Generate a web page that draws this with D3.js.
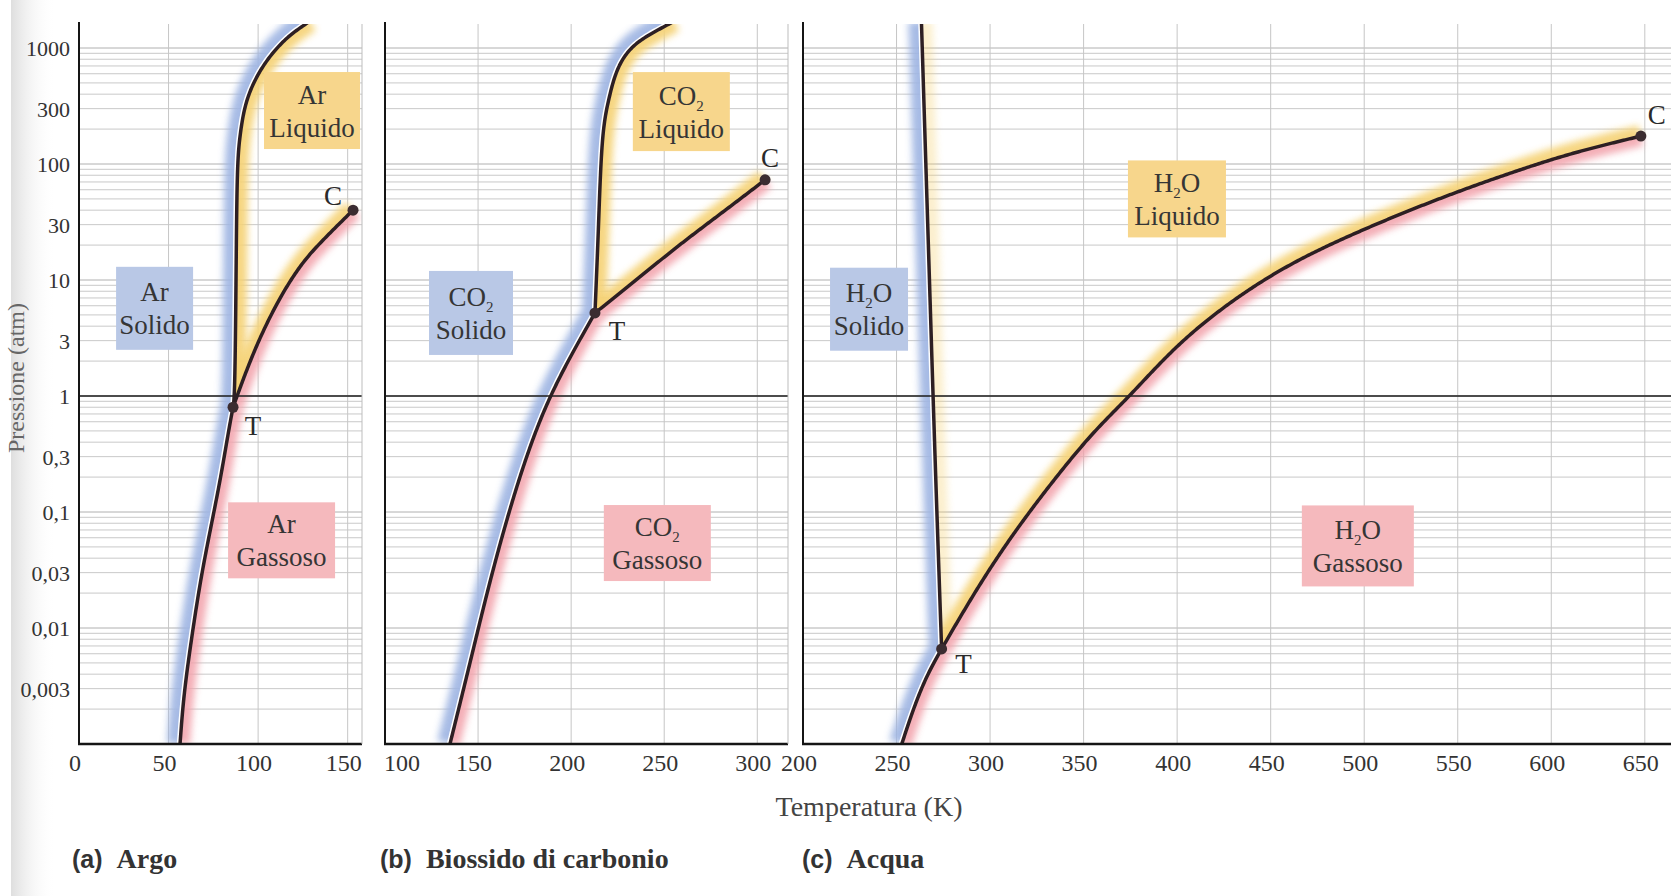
<!DOCTYPE html>
<html><head><meta charset="utf-8">
<script src="https://cdn.jsdelivr.net/npm/d3@7"></script>
<style>html,body{margin:0;padding:0;background:#fff;overflow:hidden}</style>
</head><body>
<svg id="chart" width="1671" height="896"></svg>
<script>
// ---------------- DATA ----------------
const pressureTickValues = [1000, 300, 100, 30, 10, 3, 1, 0.3, 0.1, 0.03, 0.01, 0.003];
const pressureTickLabels = ["1000", "300", "100", "30", "10", "3", "1", "0,3", "0,1", "0,03", "0,01", "0,003"];

const argonTempTicks = [0, 50, 100, 150];
const co2TempTicks = [100, 150, 200, 250, 300];
const waterTempTicks = [200, 250, 300, 350, 400, 450, 500, 550, 600, 650];

// [temperature K, pressure atm]
const argonSublimation = [[56.4,0.001],[58.3,0.0025],[62.0,0.0067],[67.6,0.025],[73.2,0.069],[78.8,0.185],[83.5,0.5],[86.0,0.8]];
const argonMelting = [[86.0,0.8],[87.0,1],[87.7,10],[88.2,100],[89.9,180],[92.7,340],[99.4,590],[108.3,930],[117.8,1300],[125.1,1550],[128.7,1700]];
const argonVaporization = [[86.0,0.8],[97.2,2.4],[110.6,6.5],[123.5,13.5],[134.6,21],[153.0,40]];
const argonTriple = [86.0, 0.8];
const argonCritical = [153.0, 40];

const co2Sublimation = [[134.9,0.001],[145.7,0.005],[156.4,0.026],[168.8,0.135],[179.5,0.44],[188.7,1.0],[199.4,2.17],[212.8,5.2]];
const co2Melting = [[212.8,5.2],[214.6,25],[216.4,185],[220.0,355],[224.5,690],[233.4,1100],[249.5,1515],[255.3,1700]];
const co2Vaporization = [[212.8,5.2],[230.0,8.6],[256.9,19.5],[283.8,41],[304.2,73]];
const co2Triple = [212.8, 5.2];
const co2Critical = [304.2, 73];

const waterSublimation = [[252.8,0.001],[258.9,0.002],[266.1,0.0039],[274.1,0.0066]];
const waterMelting = [[274.1,0.0066],[271.5,0.106],[269.5,1],[263.3,1700]];
const waterVaporization = [[274.1,0.0066],[285.5,0.0137],[299.9,0.0329],[317.6,0.0853],[339.0,0.239],[357.1,0.53],[374.8,1.0],[400.4,2.86],[430.9,7.0],[460.8,14.0],[491.3,23.9],[521.8,38.6],[552.2,59.7],[582.7,88.8],[612.6,126.9],[647.9,174]];
const waterTriple = [274.1, 0.0066];
const waterCritical = [647.9, 174];

const phaseNames = ["Solido", "Liquido", "Gassoso"];
const formulas = ["Ar", "CO_2", "H_2O"];
const captionLetters = ["(a)", "(b)", "(c)"];
const captionNames = ["Argo", "Biossido di carbonio", "Acqua"];
const xAxisTitle = "Temperatura (K)";
const yAxisTitle = "Pressione (atm)";

// ---------------- LAYOUT ----------------
const W = 1671, H = 896;
const serif = "'Liberation Serif','Times New Roman',serif";
const sans = "'Liberation Sans',Arial,sans-serif";
const plotTop = 24;
const y = d3.scaleLog().domain([0.001, 1000]).range([744, 48]);
const bottomY = y(0.001);

const panels = [
  { name: "a", xDomain: [0, 158], xRange: [79, 362], ticks: argonTempTicks, grid: [50, 100, 150],
    sub: argonSublimation, melt: argonMelting, vap: argonVaporization, triple: argonTriple, critical: argonCritical,
    formula: formulas[0], meltYellow: 0.9,
    boxes: [{T: 42.2, p: 5.7, w: 77, h: 83}, {T: 130.1, p: 289, w: 96, h: 77}, {T: 113.1, p: 0.057, w: 107, h: 76}],
    tOff: [20, 28], cOff: [-20, -5], rightEdge: true, captionX: 72 },
  { name: "b", xDomain: [100, 316.5], xRange: [385, 788], ticks: co2TempTicks, grid: [150, 200, 250, 300],
    sub: co2Sublimation, melt: co2Melting, vap: co2Vaporization, triple: co2Triple, critical: co2Critical,
    formula: formulas[1], meltYellow: 0.9,
    boxes: [{T: 146.2, p: 5.2, w: 84, h: 84}, {T: 259.2, p: 283, w: 97, h: 79}, {T: 246.3, p: 0.054, w: 107, h: 76}],
    tOff: [22, 27], cOff: [5, -13], rightEdge: true, captionX: 380 },
  { name: "c", xDomain: [200, 664], xRange: [803, 1671], ticks: waterTempTicks, grid: [250, 300, 350, 400, 450, 500, 550, 600, 650],
    sub: waterSublimation, melt: waterMelting, vap: waterVaporization, triple: waterTriple, critical: waterCritical,
    formula: formulas[2], meltYellow: 0.35,
    boxes: [{T: 235.3, p: 5.6, w: 78, h: 83}, {T: 399.9, p: 50, w: 98, h: 77}, {T: 496.6, p: 0.051, w: 112, h: 81}],
    tOff: [22, 24], cOff: [16, -12], rightEdge: false, captionX: 802 }
];

const boxColors = ["#b9c8e6", "#f7d68c", "#f5b9bd"];
const glowColors = { solid: "#9db4e2", liquid: "#f5d274", gas: "#f2a1aa" };
const curveColor = "#2d1f23";

const svg = d3.select("#chart");
const defs = svg.append("defs");
svg.append("rect").attr("width", W).attr("height", H).attr("fill", "#fff");

const shade = defs.append("linearGradient").attr("id", "shade").attr("x1", 0).attr("x2", 1).attr("y1", 0).attr("y2", 0);
shade.append("stop").attr("offset", 0).attr("stop-color", "#d6d6d6").attr("stop-opacity", 0.8);
shade.append("stop").attr("offset", 1).attr("stop-color", "#ffffff").attr("stop-opacity", 0);
svg.append("rect").attr("x", 11).attr("y", 0).attr("width", 45).attr("height", H).attr("fill", "url(#shade)");

const blur = defs.append("filter").attr("id", "glowBlur").attr("filterUnits", "userSpaceOnUse")
  .attr("x", 0).attr("y", 0).attr("width", W).attr("height", H);
blur.append("feGaussianBlur").attr("stdDeviation", 3.5);

const linear = d3.line();
const poly = pts => "M" + pts.map(p => p[0].toFixed(2) + "," + p[1].toFixed(2)).join("L") + "Z";

// smooth a curve through scaled data points (B-spline), sampled into a dense polyline
function smoothPts(dataPts, x) {
  const d = d3.line().curve(d3.curveBasis)(dataPts.map(p => [x(p[0]), y(p[1])]));
  const tmp = svg.append("path").attr("d", d).attr("fill", "none");
  const node = tmp.node();
  const L = node.getTotalLength();
  const n = Math.max(30, Math.ceil(L / 2));
  const out = d3.range(n + 1).map(i => { const q = node.getPointAtLength(L * i / n); return [q.x, q.y]; });
  tmp.remove();
  return out;
}

function writeFormula(sel, f) {
  const parts = f.match(/_\d|[^_]+/g);
  let prevSub = false;
  parts.forEach(part => {
    if (part.startsWith("_")) {
      sel.append("tspan").attr("font-size", 15).attr("dy", 6).text(part.slice(1));
      prevSub = true;
    } else {
      const t = sel.append("tspan").text(part);
      if (prevSub) t.attr("dy", -6);
      prevSub = false;
    }
  });
}

const logGrid = [];
for (let k = -3; k <= 3; k++) for (let m = 1; m <= 9; m++) {
  const v = m * Math.pow(10, k);
  if (v > 0.001 && y(v) >= plotTop) logGrid.push(v);
}

panels.forEach((P, pi) => {
  const x = d3.scaleLinear().domain(P.xDomain).range(P.xRange);
  const [x0, x1] = P.xRange;
  const subPx = smoothPts(P.sub, x), meltPx = smoothPts(P.melt, x), vapPx = smoothPts(P.vap, x);
  const cPx = [x(P.critical[0]), y(P.critical[1])], tPx = [x(P.triple[0]), y(P.triple[1])];
  const far = 200;

  defs.append("clipPath").attr("id", "plot-" + P.name).append("rect")
    .attr("x", x0).attr("y", plotTop).attr("width", x1 - x0).attr("height", bottomY - plotTop);

  const meltLast = meltPx[meltPx.length - 1];
  const solidPoly = [[subPx[0][0], bottomY + far], ...subPx, ...meltPx.slice(1), [meltLast[0], -far], [x0 - far, -far], [x0 - far, bottomY + far]];
  const liquidPoly = [...meltPx, [meltLast[0], -far], [x1 + far, -far], [x1 + far, cPx[1]], ...vapPx.slice().reverse()];
  const gasPoly = [[subPx[0][0], bottomY + far], ...subPx, ...vapPx.slice(1), [x1 + far, cPx[1]], [x1 + far, bottomY + far]];
  defs.append("clipPath").attr("id", "solid-" + P.name).append("path").attr("d", poly(solidPoly));
  defs.append("clipPath").attr("id", "liquid-" + P.name).append("path").attr("d", poly(liquidPoly));
  defs.append("clipPath").attr("id", "gas-" + P.name).append("path").attr("d", poly(gasPoly));

  const g = svg.append("g").attr("clip-path", "url(#plot-" + P.name + ")");

  // grid
  g.append("g").selectAll("line").data(logGrid).join("line")
    .attr("x1", x0).attr("x2", x1).attr("y1", d => y(d)).attr("y2", d => y(d))
    .attr("stroke", d => (Math.abs(Math.log10(d) - Math.round(Math.log10(d))) < 1e-9 ? "#b0b0b0" : "#c9c9c9"))
    .attr("stroke-width", 1);
  g.append("g").selectAll("line").data(P.grid).join("line")
    .attr("x1", d => x(d)).attr("x2", d => x(d)).attr("y1", plotTop).attr("y2", bottomY)
    .attr("stroke", "#c6c6c6").attr("stroke-width", 1);

  // glows
  const solidLine = linear([...subPx, ...meltPx.slice(1)]);
  const gs = g.append("g").attr("clip-path", "url(#solid-" + P.name + ")");
  gs.append("path").attr("d", solidLine).attr("fill", "none").attr("stroke", glowColors.solid)
    .attr("stroke-width", 26).attr("opacity", 0.9).attr("filter", "url(#glowBlur)");
  gs.append("path").attr("d", solidLine).attr("fill", "none").attr("stroke", "#fff").attr("stroke-width", 6.5);

  const gl = g.append("g").attr("clip-path", "url(#liquid-" + P.name + ")");
  gl.append("path").attr("d", linear(meltPx)).attr("fill", "none").attr("stroke", glowColors.liquid)
    .attr("stroke-width", 22).attr("opacity", P.meltYellow).attr("filter", "url(#glowBlur)");
  gl.append("path").attr("d", linear(vapPx)).attr("fill", "none").attr("stroke", glowColors.liquid)
    .attr("stroke-width", 22).attr("opacity", 0.9).attr("filter", "url(#glowBlur)");

  const gg = g.append("g").attr("clip-path", "url(#gas-" + P.name + ")");
  [linear(subPx), linear(vapPx)].forEach(d =>
    gg.append("path").attr("d", d).attr("fill", "none").attr("stroke", glowColors.gas)
      .attr("stroke-width", 20).attr("opacity", 0.85).attr("filter", "url(#glowBlur)"));

  // 1 atm line
  g.append("line").attr("x1", x0).attr("x2", x1).attr("y1", y(1)).attr("y2", y(1))
    .attr("stroke", "#1e1e1e").attr("stroke-width", 1.6);

  // curves
  [subPx, meltPx, vapPx].forEach(pts =>
    g.append("path").attr("d", linear(pts)).attr("fill", "none").attr("stroke", curveColor)
      .attr("stroke-width", 3.5).attr("stroke-linecap", "round").attr("stroke-linejoin", "round"));

  // boxes
  P.boxes.forEach((b, i) => {
    const cx = x(b.T), cy = y(b.p);
    svg.append("rect").attr("x", cx - b.w / 2).attr("y", cy - b.h / 2).attr("width", b.w).attr("height", b.h)
      .attr("fill", boxColors[i]);
    const t1 = svg.append("text").attr("x", cx).attr("y", cy - 7).attr("text-anchor", "middle")
      .attr("font-family", serif).attr("font-size", 27).attr("fill", "#353535");
    writeFormula(t1, P.formula);
    svg.append("text").attr("x", cx).attr("y", cy + 26).attr("text-anchor", "middle")
      .attr("font-family", serif).attr("font-size", 27).attr("fill", "#353535").text(phaseNames[i]);
  });

  // points
  [tPx, cPx].forEach(p => svg.append("circle").attr("cx", p[0]).attr("cy", p[1]).attr("r", 5.5).attr("fill", "#3b2c30"));
  svg.append("text").attr("x", tPx[0] + P.tOff[0]).attr("y", tPx[1] + P.tOff[1]).attr("text-anchor", "middle")
    .attr("font-family", serif).attr("font-size", 27).attr("fill", "#2a2a2a").text("T");
  svg.append("text").attr("x", cPx[0] + P.cOff[0]).attr("y", cPx[1] + P.cOff[1]).attr("text-anchor", "middle")
    .attr("font-family", serif).attr("font-size", 27).attr("fill", "#2a2a2a").text("C");

  // axes
  svg.append("line").attr("x1", x0).attr("x2", x0).attr("y1", plotTop - 2).attr("y2", bottomY + 1)
    .attr("stroke", "#151515").attr("stroke-width", 2);
  svg.append("line").attr("x1", x0 - 1).attr("x2", x1).attr("y1", bottomY).attr("y2", bottomY)
    .attr("stroke", "#151515").attr("stroke-width", 2.6);
  if (P.rightEdge) svg.append("line").attr("x1", x1).attr("x2", x1).attr("y1", plotTop).attr("y2", bottomY)
    .attr("stroke", "#bdbdbd").attr("stroke-width", 1);

  // x tick labels
  svg.append("g").selectAll("text").data(P.ticks).join("text")
    .attr("x", d => x(d) + ((P.name === "b" && d === 100) ? 17 : -4))
    .attr("y", 771).attr("text-anchor", "middle")
    .attr("font-family", serif).attr("font-size", 24).attr("fill", "#333").text(d => d);

  // caption
  const cap = svg.append("text").attr("x", P.captionX).attr("y", 868).attr("fill", "#333");
  cap.append("tspan").attr("font-family", sans).attr("font-weight", "bold").attr("font-size", 25)
    .text(captionLetters[pi]);
  cap.append("tspan").attr("font-family", serif).attr("font-weight", "bold").attr("font-size", 28)
    .text("\u00a0\u00a0" + captionNames[pi]);
});

// y tick labels (panel a)
svg.append("g").selectAll("text").data(pressureTickValues).join("text")
  .attr("x", 70).attr("y", d => y(d) + 8).attr("text-anchor", "end")
  .attr("font-family", serif).attr("font-size", 22).attr("fill", "#333")
  .text((d, i) => pressureTickLabels[i]);

// axis titles
svg.append("text").attr("x", 869).attr("y", 816).attr("text-anchor", "middle")
  .attr("font-family", serif).attr("font-size", 28).attr("fill", "#444").text(xAxisTitle);
svg.append("text").attr("transform", "translate(24,378) rotate(-90)").attr("text-anchor", "middle")
  .attr("font-family", serif).attr("font-size", 24).attr("fill", "#666").text(yAxisTitle);
</script>
</body></html>
